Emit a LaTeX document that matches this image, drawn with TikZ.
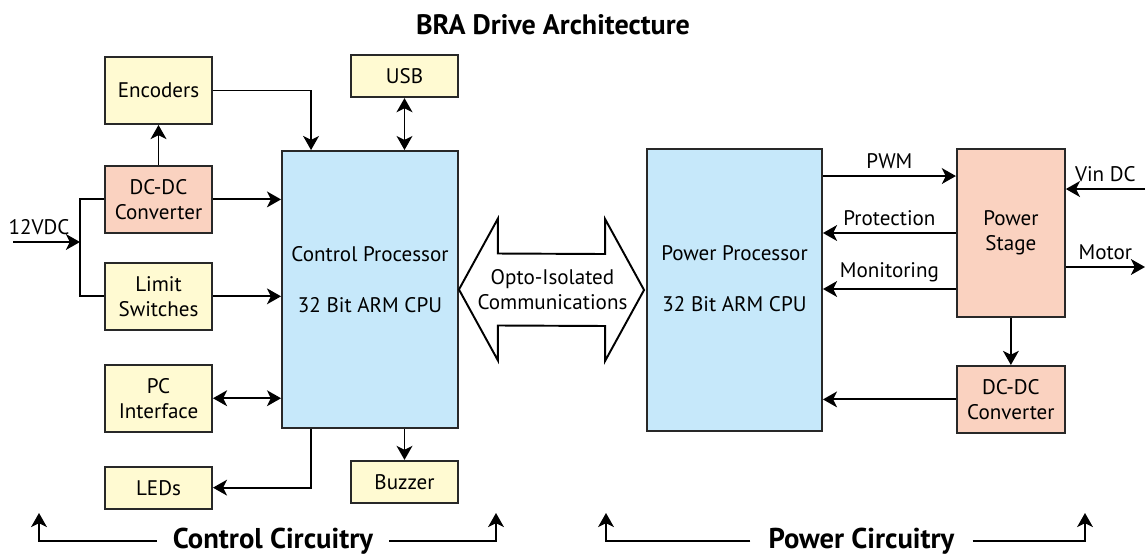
\documentclass[tikz,border=0pt]{standalone}
\usepackage{fontspec}
\setmainfont{PT Sans}
\usetikzlibrary{arrows.meta,positioning}
\definecolor{boxyellow}{RGB}{255,250,210}
\definecolor{boxsalmon}{RGB}{250,210,192}
\definecolor{cpublue}{RGB}{198,232,250}
\definecolor{edgegray}{RGB}{40,40,40}

\begin{document}
\begin{tikzpicture}[
  x=0.02cm, y=-0.02cm,
  font=\fontsize{12}{14.2}\selectfont,
  box/.style={rectangle, draw=edgegray, line width=1.1pt, align=center, minimum width=2.14cm, minimum height=1.34cm, inner sep=2pt},
  ybox/.style={box, fill=boxyellow},
  obox/.style={box, fill=boxsalmon},
  lowbox/.style={minimum height=0.84cm},
  cpu/.style={box, fill=cpublue, minimum width=3.52cm},
  wire/.style={line width=1.1pt},
  arr/.style={-{Stealth[length=8pt,width=9pt,inset=2.2pt]}, line width=1.1pt},
  darr/.style={{Stealth[length=8pt,width=9pt,inset=2.2pt]}-{Stealth[length=8pt,width=9pt,inset=2.2pt]}, line width=1.1pt},
  head/.style={font=\fontsize{16.3}{19}\bfseries\selectfont}
]
\useasboundingbox (0,0) rectangle (1146,555);

\node[font=\fontsize{16}{19}\bfseries\selectfont] (title) at (553,25) {BRA Drive Architecture};

% control side
\node[cpu, minimum height=5.54cm] (ctrl) at (370,289.5) {};
\node[align=center] (ctrltxt) at ([yshift=0.2cm]ctrl.center) {Control Processor\\[15pt]32 Bit ARM CPU};
\node[ybox] (enc) at (158.5,90.5) {Encoders};
\node[obox, below=0.8cm of enc] (dcl) {DC-DC\\Converter};
\node[ybox, below=0.56cm of dcl] (lim) {Limit\\Switches};
\node[ybox, below=0.66cm of lim] (pci) {PC\\Interface};
\node[ybox, lowbox, below=0.66cm of pci] (leds) {LEDs};
\node[ybox, lowbox, anchor=south east] (usb) at ([yshift=1.04cm]ctrl.north east) {USB};
\node[ybox, lowbox, anchor=north east] (buz) at ([yshift=-0.62cm]ctrl.south east) {Buzzer};

% power side
\node[cpu, minimum width=3.5cm, minimum height=5.64cm] (pwr) at (734.5,290) {};
\node[align=center] (pwrtxt) at ([yshift=0.22cm]pwr.center) {Power Processor\\[15pt]32 Bit ARM CPU};
\node[obox, minimum width=2.16cm, minimum height=3.36cm, anchor=north west] (stage) at ([xshift=2.66cm]pwr.north east) {Power\\Stage};
\node[obox, minimum width=2.16cm, below=0.94cm of stage] (dcr) {DC-DC\\Converter};

\coordinate (vin) at (13,242);
\coordinate (jn) at (80,242);
\coordinate (rim) at (1145,0);
\coordinate (pwmin) at ([yshift=1.14cm]stage.west);
\coordinate (monout) at ([yshift=-1.12cm]stage.west);
\coordinate (vdc) at ([yshift=0.88cm]stage.east);
\coordinate (mot) at ([yshift=-0.68cm]stage.east);

\draw[arr] (vin) -- node[above, pos=0.39] (vlbl) {12VDC} (jn);
\draw[wire] (dcl.west) -| (jn) |- (lim.west);
\draw[arr] (dcl.east) -- (dcl.east -| ctrl.west);
\draw[arr] (lim.east) -- (lim.east -| ctrl.west);
\draw[darr] (pci.east) -- (pci.east -| ctrl.west);
\draw[arr] (enc.east) -| ([xshift=0.6cm]ctrl.north west);
\draw[arr] (dcl.north) -- (enc.south);
\draw[darr] (usb.south) -- (usb.south |- ctrl.north);
\draw[arr] ([xshift=0.6cm]ctrl.south west) |- (leds.east);
\draw[arr] (buz.north |- ctrl.south) -- (buz.north);

% opto link
\draw[wire, fill=white] (ctrl.east) -- ([shift={(0.78cm,1.42cm)}]ctrl.east) -- ([shift={(0.78cm,0.72cm)}]ctrl.east)
  -- ([shift={(-0.82cm,0.72cm)}]pwr.west) -- ([shift={(-0.82cm,1.42cm)}]pwr.west) -- ([xshift=-0.04cm]pwr.west)
  -- ([shift={(-0.82cm,-1.42cm)}]pwr.west) -- ([shift={(-0.82cm,-0.72cm)}]pwr.west)
  -- ([shift={(0.78cm,-0.72cm)}]ctrl.east) -- ([shift={(0.78cm,-1.42cm)}]ctrl.east) -- cycle;
\node[align=center] (opto) at (552.5,290) {Opto-Isolated\\Communications};

\draw[arr] (pwmin -| pwr.east) -- node[above] (pwmlbl) {PWM} (pwmin);
\draw[arr] (stage.west) -- node[above] (protlbl) {Protection} (stage.west -| pwr.east);
\draw[arr] (monout) -- node[above] (monlbl) {Monitoring} (monout -| pwr.east);
\draw[arr] (vdc -| rim) -- node[above] (vinlbl) {Vin DC} (vdc);
\draw[arr] (mot) -- node[above] (motlbl) {Motor} (mot -| rim);
\draw[arr] (stage.south) -- (dcr.north);
\draw[arr] (dcr.west) -- (dcr.west -| pwr.east);

% circuit groups
\node[head, inner xsep=0.32cm] (cctxt) at (273,541) {Control Circuitry};
\node[head, inner xsep=0.36cm] (pctxt) at (861.5,541) {Power Circuitry};
\coordinate (ccl) at (39,513);
\coordinate (ccr) at (496,513);
\coordinate (pcl) at (606,513);
\coordinate (pcr) at (1085,513);
\draw[arr] (cctxt.west) -| (ccl);
\draw[arr] (cctxt.east) -| (ccr);
\draw[arr] (pctxt.west) -| (pcl);
\draw[arr] (pctxt.east) -| (pcr);
\end{tikzpicture}
\end{document}
